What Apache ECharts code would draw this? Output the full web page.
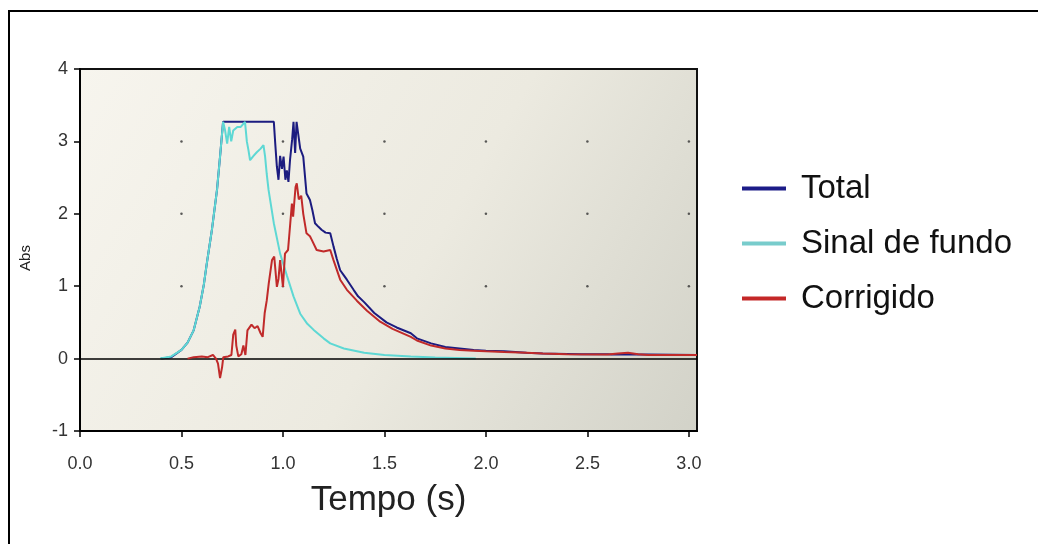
<!DOCTYPE html>
<html>
<head>
<meta charset="utf-8">
<script src="https://cdn.jsdelivr.net/npm/echarts@6/dist/echarts.min.js"></script>
<style>
  html, body { margin: 0; padding: 0; background: #fff; }
  #chart { width: 1038px; height: 544px; }
</style>
</head>
<body>
<div id="chart"></div>
<script>
// valores (tempo em s, absorbância)
const tTotal = [0.40, 0.45, 0.50, 0.53, 0.56, 0.59, 0.61, 0.625, 0.65, 0.675, 0.69, 0.705,
  0.955, 0.962, 0.97, 0.978, 0.986, 0.995, 1.003, 1.012, 1.019, 1.027, 1.035, 1.045, 1.052,
  1.060, 1.067, 1.075, 1.085, 1.10, 1.116, 1.133, 1.145, 1.158, 1.175, 1.19, 1.21, 1.233,
  1.249, 1.265, 1.282, 1.30, 1.315, 1.348, 1.37, 1.40, 1.45, 1.51, 1.56, 1.63, 1.66, 1.73,
  1.80, 1.87, 1.94, 2.00, 2.09, 2.20, 2.28, 2.40, 2.47, 2.60, 2.62, 2.80, 3.04];
const vTotal = [0.00, 0.02, 0.12, 0.22, 0.39, 0.72, 1.02, 1.32, 1.78, 2.33, 2.79, 3.27,
  3.27, 2.97, 2.65, 2.47, 2.80, 2.62, 2.79, 2.47, 2.60, 2.44, 2.75, 3.02, 3.27,
  2.84, 3.27, 3.27, 2.90, 2.79, 2.28, 2.19, 2.05, 1.87, 1.82, 1.78, 1.74, 1.73,
  1.55, 1.38, 1.22, 1.15, 1.09, 0.95, 0.86, 0.78, 0.63, 0.50, 0.43, 0.35, 0.28, 0.21,
  0.16, 0.14, 0.12, 0.11, 0.10, 0.08, 0.07, 0.065, 0.06, 0.06, 0.055, 0.055, 0.05];

const tFundo = [0.395, 0.45, 0.50, 0.53, 0.56, 0.59, 0.61, 0.625, 0.65, 0.675, 0.69, 0.705,
  0.715, 0.725, 0.735, 0.745, 0.755, 0.775, 0.792, 0.813, 0.822, 0.830, 0.838, 0.855, 0.871,
  0.89, 0.904, 0.912, 0.92, 0.929, 0.955, 0.986, 1.019, 1.052, 1.085, 1.12, 1.15, 1.20,
  1.233, 1.30, 1.40, 1.50, 1.63, 1.75, 1.95];
const vFundo = [0.00, 0.03, 0.12, 0.22, 0.39, 0.72, 1.02, 1.32, 1.78, 2.33, 2.79, 3.27,
  3.15, 2.97, 3.20, 3.00, 3.15, 3.20, 3.20, 3.27, 3.00, 2.88, 2.74, 2.80, 2.85,
  2.90, 2.95, 2.79, 2.55, 2.33, 1.87, 1.45, 1.15, 0.86, 0.62, 0.48, 0.40, 0.28,
  0.21, 0.14, 0.08, 0.05, 0.03, 0.015, 0.00];

const tCorr = [0.53, 0.56, 0.60, 0.63, 0.655, 0.67, 0.68, 0.69, 0.70, 0.706, 0.73, 0.746,
  0.755, 0.765, 0.77, 0.78, 0.795, 0.805, 0.815, 0.825, 0.845, 0.86, 0.875, 0.89, 0.90,
  0.91, 0.92, 0.93, 0.946, 0.957, 0.97, 0.978, 0.986, 1.00, 1.01, 1.025, 1.036, 1.044,
  1.05, 1.062, 1.068, 1.078, 1.09, 1.10, 1.116, 1.133, 1.142, 1.166, 1.20, 1.233, 1.249,
  1.282, 1.315, 1.364, 1.414, 1.479, 1.54, 1.63, 1.66, 1.73, 1.80, 1.87, 1.94, 2.00,
  2.09, 2.20, 2.28, 2.40, 2.60, 2.65, 2.70, 2.75, 2.80, 3.04];
const vCorr = [0.00, 0.02, 0.03, 0.02, 0.05, 0.00, -0.07, -0.27, -0.12, 0.02, 0.03, 0.05,
  0.33, 0.40, 0.18, 0.03, 0.06, 0.18, 0.05, 0.39, 0.47, 0.42, 0.45, 0.35, 0.30,
  0.63, 0.80, 1.04, 1.36, 1.41, 0.99, 1.10, 1.36, 0.99, 1.45, 1.50, 1.87, 2.14,
  1.96, 2.37, 2.42, 2.20, 2.25, 2.00, 1.73, 1.69, 1.64, 1.50, 1.48, 1.50, 1.36,
  1.09, 0.95, 0.80, 0.66, 0.51, 0.41, 0.30, 0.25, 0.18, 0.14, 0.12, 0.11, 0.10,
  0.09, 0.08, 0.07, 0.06, 0.055, 0.07, 0.08, 0.06, 0.05, 0.05];

const xTicks = [0.0, 0.5, 1.0, 1.5, 2.0, 2.5, 3.0];
const yTicks = [1, 2, 3];

const pairs = (ts, vs) => ts.map((t, i) => [t, vs[i]]);

// pontos da grade (só nos cruzamentos)
const gridDots = [];
xTicks.filter(x => x > 0).forEach(x => yTicks.forEach(y => gridDots.push([x, y])));

const FONT = 'Liberation Sans, Arial, sans-serif';

const chart = echarts.init(document.getElementById('chart'));
chart.setOption({
  animation: false,
  textStyle: { fontFamily: FONT },
  graphic: [{
    type: 'rect',
    shape: { x: 9, y: 11, width: 1100, height: 600 },
    style: { fill: 'none', stroke: '#000', lineWidth: 2 },
    silent: true
  }],
  grid: {
    left: 80, top: 69, right: 341, bottom: 113,
    show: true,
    borderColor: '#111',
    borderWidth: 2,
    backgroundColor: new echarts.graphic.LinearGradient(0, 0, 1, 1, [
      { offset: 0, color: '#f7f5ee' },
      { offset: 0.55, color: '#eceae0' },
      { offset: 1, color: '#d2d2c8' }
    ])
  },
  legend: {
    orient: 'vertical',
    left: 737, top: 167,
    itemWidth: 44, itemHeight: 4, itemGap: 22,
    icon: 'rect',
    textStyle: { fontSize: 33, color: '#111', fontFamily: FONT, padding: [0, 0, 0, 10] },
    data: ['Total', 'Sinal de fundo', 'Corrigido']
  },
  xAxis: {
    type: 'value', min: 0, max: 3.04,
    name: 'Tempo (s)', nameLocation: 'middle', nameGap: 52,
    nameTextStyle: { fontSize: 35, color: '#222' },
    axisLine: { onZero: false, lineStyle: { color: '#000', width: 2 } },
    axisTick: { show: true, length: 6, lineStyle: { color: '#000', width: 1.5 }, customValues: xTicks },
    axisLabel: { fontSize: 18, color: '#333', margin: 24, customValues: xTicks,
      formatter: v => v.toFixed(1) },
    splitLine: { show: false }
  },
  yAxis: {
    type: 'value', min: -1, max: 4, interval: 1,
    name: 'Abs', nameLocation: 'middle', nameRotate: 90, nameGap: 47,
    nameTextStyle: { fontSize: 15, color: '#222', padding: [0, 16, 0, 0] },
    axisLine: { show: true, lineStyle: { color: '#000', width: 2 } },
    axisTick: { show: true, length: 6, lineStyle: { color: '#000', width: 1.5 } },
    axisLabel: { fontSize: 18, color: '#333', margin: 12 },
    splitLine: { show: false }
  },
  series: [
    {
      name: 'grade', type: 'scatter', data: gridDots,
      symbolSize: 2.5, itemStyle: { color: '#333' }, silent: true, z: 1
    },
    {
      name: 'Total', type: 'line', data: pairs(tTotal, vTotal),
      showSymbol: false, color: '#1c1c88',
      lineStyle: { width: 2, color: '#1c1c80' }, z: 3,
      markLine: {
        silent: true, symbol: ['none', 'none'], label: { show: false },
        lineStyle: { color: '#000', width: 1.5, type: 'solid' },
        data: [{ yAxis: 0 }]
      }
    },
    {
      name: 'Sinal de fundo', type: 'line', data: pairs(tFundo, vFundo),
      showSymbol: false, color: '#78cccc',
      lineStyle: { width: 2, color: '#5ed8d4' }, z: 4
    },
    {
      name: 'Corrigido', type: 'line', data: pairs(tCorr, vCorr),
      showSymbol: false, color: '#c42828',
      lineStyle: { width: 2, color: '#c02a2a' }, z: 5
    }
  ]
});
</script>
</body>
</html>
